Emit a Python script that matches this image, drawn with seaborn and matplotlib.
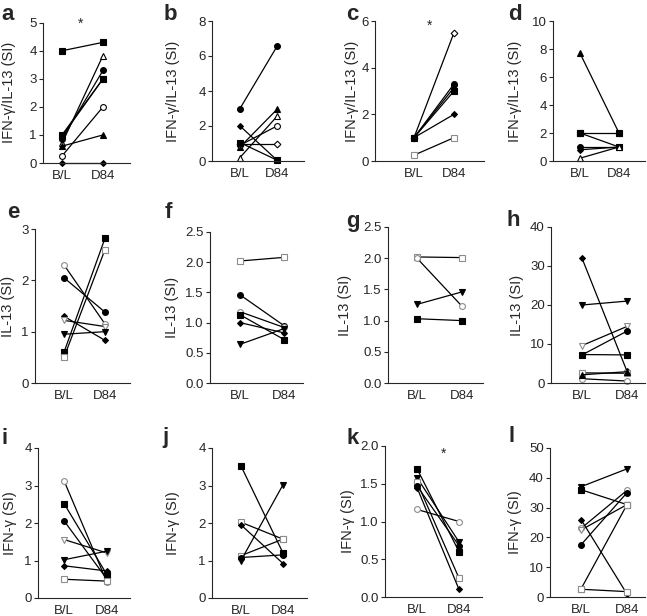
import matplotlib
matplotlib.use('Agg')
import matplotlib.pyplot as plt
import seaborn as sns
import numpy as np
from matplotlib.ticker import MultipleLocator

sns.set_style('ticks')
plt.rcParams['font.family'] = ['Liberation Sans', 'DejaVu Sans']

TIMEPOINTS = ['B/L', 'D84']

# ---- data: B/L value, D84 value, marker code per subject ----
A_BL = [4.0, 0.7, 0.85, 0.95, 0.25, 0.6, 0.0, 1.0]
A_D84 = [4.3, 3.83, 3.3, 3.0, 2.0, 1.0, 0.0, 3.0]
A_MK = ['s', 'A', 'o', 'v', 'O', '^', 'D', 's']

B_BL = [3.0, 0.8, 0.2, 0.9, 1.0, 2.0, 1.05]
B_D84 = [6.55, 2.95, 2.55, 2.0, 1.0, 0.05, 0.05]
B_MK = ['o', '^', 'A', 'O', 'Q', 'D', 's']

C_BL = [1.0, 1.0, 1.0, 1.0, 1.0, 0.25]
C_D84 = [5.5, 3.3, 3.15, 3.0, 2.0, 1.0]
C_MK = ['Q', 'o', 'v', 's', 'D', 'S']

D_BL = [7.7, 2.0, 2.0, 1.0, 0.8, 0.2]
D_D84 = [2.0, 2.0, 1.0, 1.0, 1.0, 1.0]
D_MK = ['^', 's', 's', 'o', 'D', 'A']

E_BL = [2.3, 2.05, 1.3, 1.22, 0.95, 0.6, 0.5]
E_D84 = [1.15, 1.38, 0.83, 1.1, 1.0, 2.82, 2.6]
E_MK = ['G', 'o', 'D', 'V', 'v', 's', 'S']

F_BL = [2.02, 1.46, 1.18, 1.13, 1.0, 0.64]
F_D84 = [2.08, 0.95, 0.92, 0.72, 0.83, 0.9]
F_MK = ['S', 'o', 'G', 's', 'D', 'v']

G_BL = [2.02, 2.0, 1.26, 1.03]
G_D84 = [2.01, 1.23, 1.46, 1.0]
G_MK = ['S', 'G', 'v', 's']

H_BL = [32.0, 20.0, 9.6, 7.2, 7.3, 2.6, 1.1, 2.1]
H_D84 = [3.0, 21.0, 14.5, 13.3, 7.2, 2.5, 0.5, 2.9]
H_MK = ['D', 'v', 'V', 'o', 's', 'S', 'G', '^']

I_BL = [3.13, 2.52, 2.06, 1.56, 1.02, 0.86, 0.5]
I_D84 = [0.42, 0.62, 0.5, 1.2, 1.25, 0.72, 0.45]
I_MK = ['G', 's', 'o', 'V', 'v', 'D', 'S']

J_BL = [3.52, 2.02, 1.95, 1.13, 1.0, 1.08]
J_D84 = [1.2, 1.57, 0.92, 1.57, 3.02, 1.15]
J_MK = ['s', 'S', 'D', 'S', 'v', 'o']

K_BL = [1.7, 1.58, 1.52, 1.47, 1.45, 1.16]
K_D84 = [0.6, 0.73, 0.25, 0.68, 0.1, 1.0]
K_MK = ['s', 'v', 'S', 'o', 'D', 'G']

L_BL = [37.0, 36.0, 26.0, 23.0, 22.5, 17.5, 2.6, 2.7]
L_D84 = [43.0, 31.0, 1.0, 35.8, 31.0, 35.0, 1.8, 31.0]
L_MK = ['v', 's', 'D', 'G', 'V', 'o', 'S', 'S']

YLABELS = ['IFN-γ/IL-13 (SI)'] * 4 + ['IL-13 (SI)'] * 4 + ['IFN-γ (SI)'] * 4
YMAX = [5, 8, 6, 10, 3, 2.5, 2.5, 40, 4, 4, 2.0, 50]
YSTEP = [1, 2, 2, 2, 1, 0.5, 0.5, 10, 1, 1, 0.5, 10]
LETTERS = list('abcdefghijkl')
# significance star (x in category units, y in data units), None if absent
STARS = [(0.44, 4.95), None, (0.4, 5.8), None, None, None, None, None,
         None, None, (0.62, 1.9), None]

DATA = [(A_BL, A_D84, A_MK), (B_BL, B_D84, B_MK), (C_BL, C_D84, C_MK),
        (D_BL, D_D84, D_MK), (E_BL, E_D84, E_MK), (F_BL, F_D84, F_MK),
        (G_BL, G_D84, G_MK), (H_BL, H_D84, H_MK), (I_BL, I_D84, I_MK),
        (J_BL, J_D84, J_MK), (K_BL, K_D84, K_MK), (L_BL, L_D84, L_MK)]

# marker code -> (marker, face, edge, size)
GREY = '#8c8c8c'
MARKERS = {
    's': ('s', 'black', 'black', 4.2),
    'S': ('s', 'white', GREY, 4.2),
    'o': ('o', 'black', 'black', 4.2),
    'O': ('o', 'white', 'black', 4.2),
    'G': ('o', 'white', GREY, 4.2),
    '^': ('^', 'black', 'black', 4.4),
    'A': ('^', 'white', 'black', 4.4),
    'v': ('v', 'black', 'black', 4.4),
    'V': ('v', 'white', GREY, 4.4),
    'D': ('D', 'black', 'black', 3.0),
    'Q': ('D', 'white', 'black', 3.4),
}

# ---- layout in pixels: spine x, right x, top y, bottom y, B/L x, D84 x ----
W, H = 647, 616
LAYOUT = [
    (43, 130, 22.7, 163, 62, 103), (212, 304, 21, 161, 240, 277),
    (375, 484, 21, 161, 414, 454), (553, 645, 21, 161, 580, 619),
    (35, 130, 229, 383, 64, 105), (210, 303, 232, 383, 240, 284),
    (388, 483, 227, 383, 417, 462), (551, 645, 227, 383, 582, 627),
    (38, 130, 448, 598, 64, 107), (212, 307, 448, 598, 241, 283),
    (385, 482, 446, 597, 417, 459), (550, 645, 448, 597, 581, 627),
]
YLABEL_X = [9, 173, 352, 515, 8, 172, 345, 517, 10, 173, 348, 515]
LETTER_POS = [(8, 14), (170, 14), (352, 14), (515, 14),
              (13, 213), (168, 213), (353, 222), (513, 220),
              (5, 438), (165, 438), (353, 438), (512, 437)]

fig = plt.figure(figsize=(W / 100, H / 100), dpi=100)

for idx, (bl, d84, mk) in enumerate(DATA):
    sx, rx, ty, by, bx, dx = LAYOUT[idx]
    ax = fig.add_axes([sx / W, 1 - by / H, (rx - sx) / W, (by - ty) / H])
    unit = dx - bx
    ax.set_xlim((sx - bx) / unit, 1 + (rx - dx) / unit)
    ax.set_ylim(0, YMAX[idx])

    for v0, v1, code in zip(bl, d84, mk):
        m, fc, ec, ms = MARKERS[code]
        sns.lineplot(x=[0, 1], y=[v0, v1], ax=ax, color='black', linewidth=0.9,
                     marker=m, markersize=ms, markerfacecolor=fc,
                     markeredgecolor=ec, markeredgewidth=0.8, clip_on=False)

    ax.set_xticks([0, 1])
    ax.set_xticklabels(TIMEPOINTS)
    ax.yaxis.set_major_locator(MultipleLocator(YSTEP[idx]))
    ax.tick_params(axis='x', length=0, pad=5, labelsize=9.5)
    ax.tick_params(axis='y', length=3, width=0.8, pad=1.5, labelsize=9.5)
    ax.set_ylabel(YLABELS[idx], fontsize=10.5)
    ax.yaxis.label.set_va('center')
    ax.yaxis.set_label_coords((YLABEL_X[idx] - sx) / (rx - sx), 0.5)
    ax.set_xlabel('')
    sns.despine(ax=ax)
    for sp in ['left', 'bottom']:
        ax.spines[sp].set_linewidth(0.8)

    if STARS[idx] is not None:
        ax.text(STARS[idx][0], STARS[idx][1], '*', ha='center', va='center',
                fontsize=10)

    lx, ly = LETTER_POS[idx]
    fig.text(lx / W, 1 - ly / H, LETTERS[idx], fontsize=16, fontweight='bold',
             ha='center', va='center')

plt.savefig('out.png', dpi=100)
plt.close()
